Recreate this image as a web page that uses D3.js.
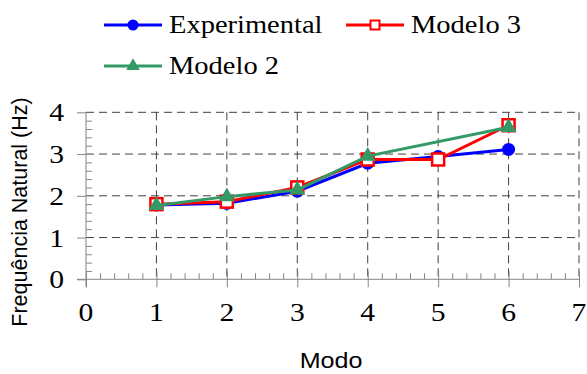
<!DOCTYPE html>
<html>
<head>
<meta charset="utf-8">
<script src="https://cdn.jsdelivr.net/npm/d3@7"></script>
<style>
body { margin: 0; background: #fff; }
svg { display: block; }
</style>
</head>
<body>
<div id="chart"></div>
<script>
// valores
const modos = [1, 2, 3, 4, 5, 6];
const experimental = [1.78, 1.82, 2.11, 2.78, 2.94, 3.11];
const modelo3 = [1.80, 1.86, 2.20, 2.87, 2.87, 3.69];
const modelo2 = [1.77, 1.98, 2.14, 2.95, null, 3.64];
const xTicks = [0, 1, 2, 3, 4, 5, 6, 7];
const yTicks = [0, 1, 2, 3, 4];

(function() {

const width = 587, height = 374;
const stretch = 1.14; // a imagem original está um pouco esticada na horizontal

const svg = d3.select("#chart").append("svg")
	.attr("width", width)
	.attr("height", height);

const x = d3.scaleLinear().domain([0, 7]).range([86, 579]);
const y = d3.scaleLinear().domain([0, 4]).range([279.3, 112.3]);

const serif = "'Liberation Serif', 'Times New Roman', serif";
const sans = "'Liberation Sans', Arial, sans-serif";

function addText(parent, tx, ty, txt, font, size, anchor) {
	return parent.append("g")
		.attr("transform", "translate(" + tx + "," + ty + ") scale(" + stretch + ",1)")
		.append("text")
		.attr("text-anchor", anchor || "start")
		.style("font-family", font)
		.style("font-size", size + "px")
		.text(txt);
}

const grid = svg.append("g")
	.attr("stroke", "#404040")
	.attr("stroke-width", 1)
	.attr("stroke-dasharray", "8,5");

grid.selectAll("line.v")
	.data(xTicks.filter(d => d > 0))
	.enter().append("line")
	.attr("x1", d => x(d)).attr("x2", d => x(d))
	.attr("y1", y(4)).attr("y2", y(0));

grid.selectAll("line.h")
	.data(yTicks.filter(d => d > 0))
	.enter().append("line")
	.attr("x1", x(0)).attr("x2", x(7))
	.attr("y1", d => y(d)).attr("y2", d => y(d));

// eixos
const axisColor = "#868686";
const isMajor = d => Math.abs(d - Math.round(d)) < 1e-6;

const xAxis = svg.append("g").attr("transform", "translate(0," + y(0) + ")");
xAxis.call(d3.axisBottom(x).tickValues(d3.range(0, 7.01, 0.2)).tickSize(0).tickFormat(""));
xAxis.select(".domain").remove();
xAxis.selectAll(".tick line").remove();
xAxis.selectAll(".tick").append("line")
	.attr("stroke", axisColor)
	.attr("y1", d => isMajor(d) ? -8 : -6)
	.attr("y2", d => isMajor(d) ? 8 : 0);
xAxis.append("line")
	.attr("x1", x(0) - 9).attr("x2", x(7))
	.attr("stroke", axisColor);

const yAxis = svg.append("g").attr("transform", "translate(" + x(0) + ",0)");
yAxis.call(d3.axisLeft(y).tickValues(d3.range(0, 4.01, 0.2)).tickSize(0).tickFormat(""));
yAxis.select(".domain").remove();
yAxis.selectAll(".tick line").remove();
yAxis.selectAll(".tick").append("line")
	.attr("stroke", axisColor)
	.attr("x1", d => isMajor(d) ? -9 : 0)
	.attr("x2", d => isMajor(d) ? 0 : 6);
yAxis.append("line")
	.attr("y1", y(4)).attr("y2", y(0) + 8)
	.attr("stroke", axisColor);

// rótulos dos eixos
const xLab = svg.append("g");
xTicks.forEach(d => addText(xLab, x(d), 321, d, serif, 26, "middle"));

const yLab = svg.append("g");
yTicks.forEach(d => addText(yLab, 64, y(d) + 9, d, serif, 26, "end"));

addText(svg, 331, 368, "Modo", sans, 22, "middle");

svg.append("text")
	.attr("transform", "translate(27,212) rotate(-90)")
	.attr("text-anchor", "middle")
	.style("font-family", sans)
	.style("font-size", "21.5px")
	.text("Frequência Natural (Hz)");

// séries
const series = [
	{nome: "Experimental", valores: experimental, cor: "#0000ff", marca: "circle"},
	{nome: "Modelo 2", valores: modelo2, cor: "#339966", marca: "triangle"},
	{nome: "Modelo 3", valores: modelo3, cor: "#ff0000", marca: "square"}
];

const line = d3.line()
	.x(d => x(d[0]))
	.y(d => y(d[1]));

function drawMarker(g, tipo, cor, k) {
	k = k || 1;
	if (tipo === "circle") {
		g.append("circle").attr("r", 6.5 * k).attr("fill", cor);
	} else if (tipo === "square") {
		g.append("rect").attr("x", -6 * k).attr("y", -6 * k).attr("width", 12 * k).attr("height", 12 * k)
			.attr("fill", "#fff").attr("stroke", cor).attr("stroke-width", 2.5);
	} else {
		g.append("path").attr("d", d3.symbol().type(d3.symbolTriangle).size(110 * k * k)())
			.attr("fill", cor);
	}
}

const order = [0, 2, 1];
order.forEach(function(i) {
	const s = series[i];
	const pts = modos.map((m, j) => [m, s.valores[j]]).filter(p => p[1] != null);
	svg.append("path")
		.datum(pts)
		.attr("d", line)
		.attr("fill", "none")
		.attr("stroke", s.cor)
		.attr("stroke-width", 3);
	svg.append("g").selectAll("g")
		.data(pts)
		.enter().append("g")
		.attr("transform", p => "translate(" + x(p[0]) + "," + y(p[1]) + ")")
		.each(function() { drawMarker(d3.select(this), s.marca, s.cor); });
});

// legenda
const legend = [
	{s: series[0], x: 104, y: 25},
	{s: series[2], x: 346, y: 25},
	{s: series[1], x: 104, y: 66}
];
legend.forEach(function(l) {
	const g = svg.append("g").attr("transform", "translate(" + l.x + "," + l.y + ")");
	g.append("line").attr("x1", 0).attr("x2", 58)
		.attr("stroke", l.s.cor).attr("stroke-width", 3);
	const m = g.append("g").attr("transform", "translate(29,0)");
	if (l.s.marca === "square") {
		m.append("rect").attr("x", -4.5).attr("y", -4.5).attr("width", 9).attr("height", 9)
			.attr("fill", "#fff").attr("stroke", l.s.cor).attr("stroke-width", 2);
	} else {
		drawMarker(m, l.s.marca, l.s.cor, 0.85);
	}
	addText(g, 65, 8, l.s.nome, serif, 25, "start");
});

})();
</script>
</body>
</html>
